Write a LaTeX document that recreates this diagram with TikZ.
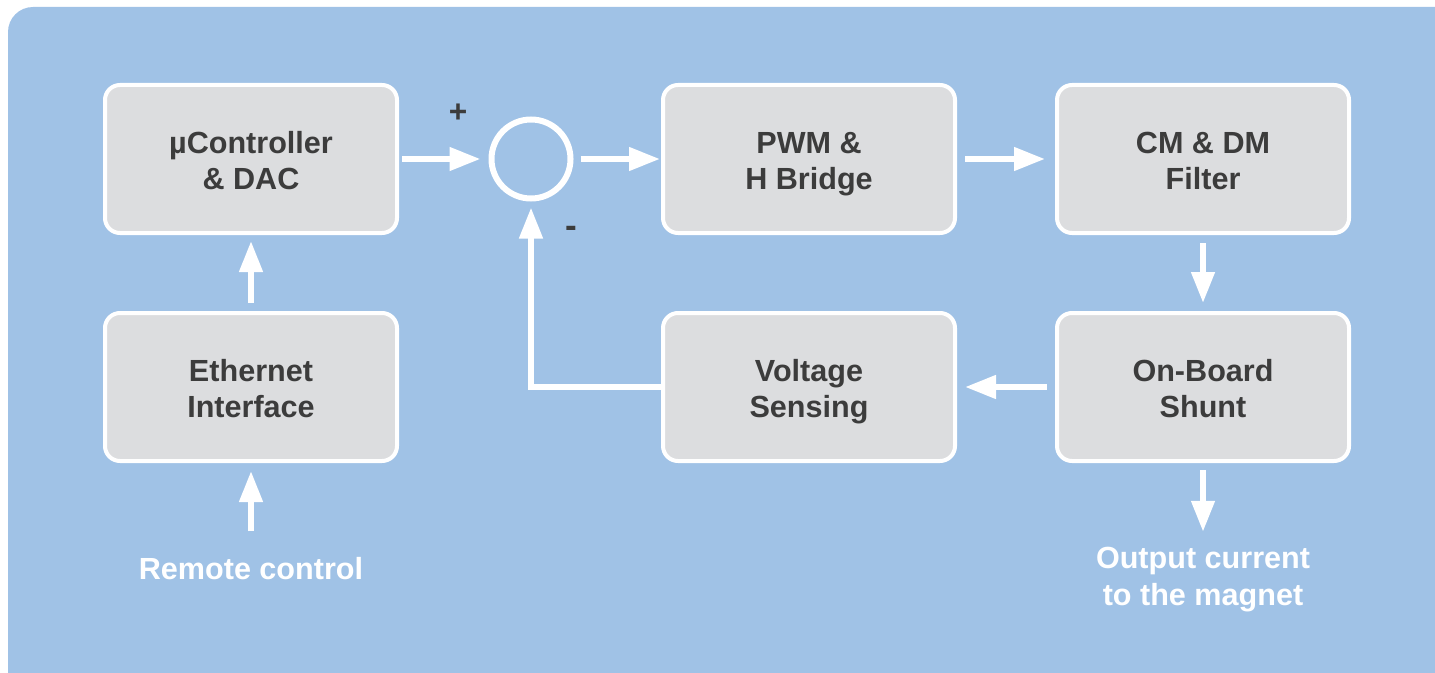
\documentclass[tikz,border=0pt]{standalone}
\usepackage{fontspec}
\setmainfont{Liberation Sans}
\usetikzlibrary{arrows.meta}
\definecolor{panelblue}{HTML}{A0C2E6}
\definecolor{boxgray}{HTML}{DCDDDF}
\definecolor{textgray}{HTML}{3C3C3C}
\begin{document}
\begin{tikzpicture}[
  block/.style={draw=white, line width=0.08cm, fill=boxgray, rounded corners=0.3cm,
    minimum width=5.84cm, minimum height=2.96cm, align=center, text=textgray,
    font={\fontsize{17.4}{20.5}\selectfont\bfseries},
    execute at begin node={\rule{0pt}{38.3pt}},
    execute at end node={\rule[-4pt]{0pt}{0pt}}},
  flow/.style={draw=white, line width=0.12cm, -{Triangle[length=0.62cm,width=0.45cm]},
    shorten <=0.16cm, shorten >=0.16cm},
  note/.style={text=white, align=center, inner sep=0pt,
    font={\fontsize{17.4}{21}\selectfont\bfseries}},
  sign/.style={text=textgray, inner sep=0pt, font={\fontsize{18}{20}\selectfont\bfseries}}
]
\useasboundingbox (0,0) rectangle (28.7,13.44);
% Blue panel
\begin{scope}
\clip (0,0) rectangle (28.7,13.44);
\fill[panelblue, rounded corners=0.5cm] (0.16,-1) rectangle (30,13.30);
\end{scope}
% Blocks
\node[block] (mcu) at (5.02,10.26) {µController\\\& DAC};
\node[block] (eth) at (5.02,5.70) {Ethernet\\Interface};
\node[block] (pwm) at (16.18,10.26) {PWM \&\\H Bridge};
\node[block] (filter) at (24.06,10.26) {CM \& DM\\Filter};
\node[block] (sense) at (16.18,5.70) {Voltage\\Sensing};
\node[block] (shunt) at (24.06,5.70) {On-Board\\Shunt};
% Summing point
\node[draw=white, line width=0.12cm, circle, minimum size=1.58cm, inner sep=0pt] (sum) at (10.62,10.26) {};
\node[sign] (plus) at (9.16,11.18) {+};
\node[sign, font={\fontsize{20}{20}\selectfont\bfseries}] (minus) at (11.42,8.80) {-};
% Outside labels
\node[note, anchor=base] (remote) at (5.02,1.86) {Remote control};
\node[note] (output) at (24.06,1.85) {Output current\\to the magnet};
% Signal path
\draw[flow, shorten <=0.06cm] (mcu) -- (sum);
\draw[flow, shorten <=0.14cm, shorten >=0.02cm] (sum) -- (pwm);
\draw[flow, shorten >=0.2cm] (pwm) -- (filter);
\draw[flow] (filter) -- (shunt);
\draw[flow] (shunt) -- (sense);
% Feedback loop
\draw[flow, shorten <=0pt, shorten >=0.12cm] (sense.west) -| (sum.south);
% Control input and output
\draw[flow, shorten >=0.12cm] (eth) -- (mcu);
\draw[flow, shorten <=0.5cm] (remote.north) -- (eth.south);
\draw[flow, shorten <=0.14cm, shorten >=0.3cm] (shunt.south) -- (output.north);
\end{tikzpicture}
\end{document}
